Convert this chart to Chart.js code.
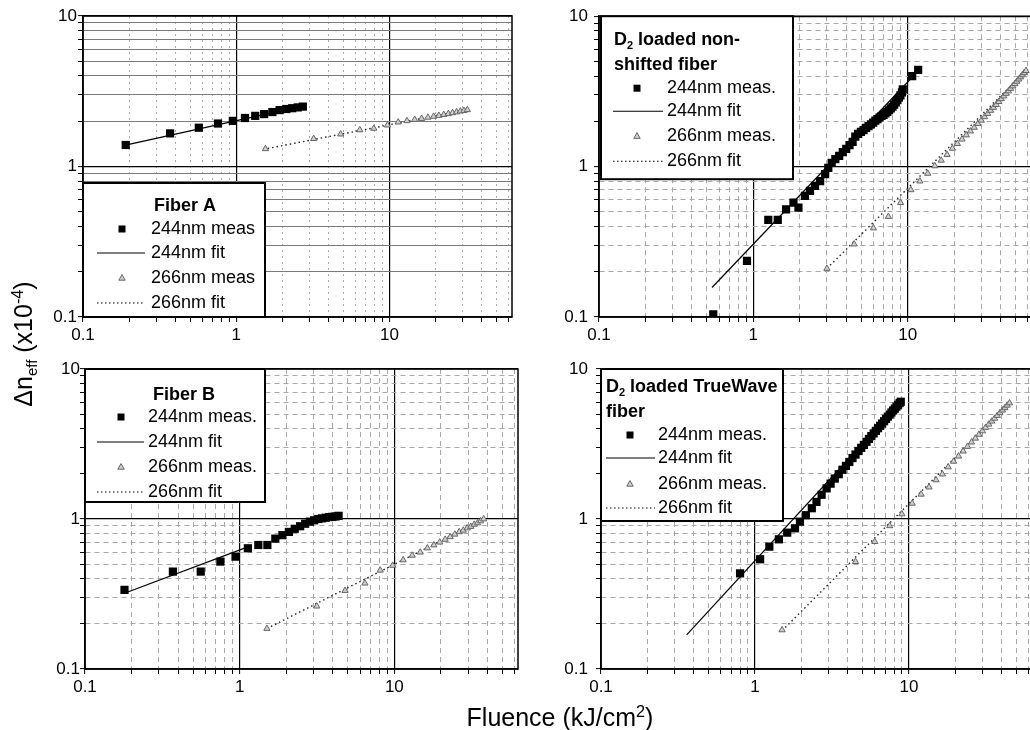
<!DOCTYPE html>
<html>
<head>
<meta charset="utf-8">
<script src="https://cdn.jsdelivr.net/npm/chart.js@4.4.1/dist/chart.umd.min.js"></script>
<style>
  html, body { margin: 0; padding: 0; background: #fff; }
  body { width: 1030px; height: 730px; overflow: hidden; position: relative; font-family: "Liberation Sans", Arial, sans-serif; }
  .panel { position: absolute; }
  .axis-title { position: absolute; font-size: 25px; line-height: 28px; color: #000; white-space: nowrap; text-align: center; }
  .axis-title .sup { position: relative; top: -0.55em; font-size: 0.65em; }
  .axis-title .sub { position: relative; top: 0.3em; font-size: 0.6em; }
</style>
</head>
<body>
<div class="panel" style="left:0;top:0"><canvas id="fiberA" width="525" height="350"></canvas></div>
<div class="panel" style="left:525px;top:0"><canvas id="nonShifted" width="540" height="350"></canvas></div>
<div class="panel" style="left:0;top:340px"><canvas id="fiberB" width="525" height="370"></canvas></div>
<div class="panel" style="left:525px;top:340px"><canvas id="trueWave" width="540" height="370"></canvas></div>

<div class="axis-title" style="left:410px;top:703px;width:300px">Fluence (kJ/cm<span class="sup">2</span>)</div>
<div class="axis-title" style="left:-75px;top:328px;width:200px;transform:rotate(-90deg)">Δn<span class="sub">eff</span> (x10<span class="sup">-4</span>)</div>

<script>
// ── Axes ──
const xMin = 0.1, xMax = 63, yMin = 0.1, yMax = 10;
const majorTicks = [0.1, 1, 10];
const majorLabels = ['0.1', '1', '10'];
const xTickValues = [0.1, 0.2, 0.3, 0.4, 0.5, 0.6, 0.7, 0.8, 0.9, 1, 2, 3, 4, 5, 6, 7, 8, 9, 10, 20, 30, 40, 50, 60];
const yTickValues = [0.1, 0.2, 0.3, 0.4, 0.5, 0.6, 0.7, 0.8, 0.9, 1, 2, 3, 4, 5, 6, 7, 8, 9, 10];

// ── Fiber A (top left) ──
const a244X = [0.19, 0.37, 0.57, 0.76, 0.95, 1.14, 1.33, 1.52, 1.72, 1.92, 2.12, 2.32, 2.52, 2.72];
const a244Y = [1.39, 1.66, 1.81, 1.93, 2.01, 2.10, 2.17, 2.23, 2.30, 2.37, 2.41, 2.44, 2.47, 2.50];
const a244FitX = [0.18, 2.7];
const a244FitY = [1.37, 2.52];
const a266X = [1.55, 3.2, 4.8, 6.4, 7.9, 9.7, 11.4, 13.0, 14.6, 16.2, 17.8, 19.4, 21.0, 22.6, 24.2, 25.8, 27.4, 29.0, 30.6, 32.2];
const a266Y = [1.31, 1.53, 1.64, 1.75, 1.79, 1.88, 1.97, 2.01, 2.05, 2.08, 2.12, 2.15, 2.18, 2.21, 2.24, 2.27, 2.30, 2.33, 2.35, 2.38];
const a266FitX = [1.5, 33];
const a266FitY = [1.30, 2.40];

// ── D2 loaded non-shifted fiber (top right) ──
const b244X = [0.55, 0.91, 1.25, 1.44, 1.63, 1.82, 1.96, 2.16, 2.33, 2.51, 2.71, 2.92, 3.06, 3.22, 3.40, 3.60, 3.80, 4.00, 4.20, 4.40, 4.58, 4.78, 4.98, 5.18, 5.38, 5.58, 5.78, 5.98, 6.18, 6.38, 6.58, 6.78, 6.98, 7.18, 7.38, 7.58, 7.78, 7.98, 8.18, 8.38, 8.58, 8.78, 8.98, 9.18, 9.30, 10.7, 11.7];
const b244Y = [0.104, 0.236, 0.442, 0.442, 0.52, 0.576, 0.534, 0.638, 0.69, 0.745, 0.80, 0.89, 0.98, 1.06, 1.12, 1.18, 1.25, 1.31, 1.39, 1.46, 1.58, 1.65, 1.70, 1.75, 1.81, 1.86, 1.91, 1.96, 2.02, 2.07, 2.12, 2.17, 2.21, 2.26, 2.31, 2.37, 2.44, 2.50, 2.58, 2.67, 2.77, 2.87, 2.98, 3.12, 3.26, 4.0, 4.4];
const b244FitX = [0.54, 12];
const b244FitY = [0.157, 4.44];
const b266X = [3.0, 4.5, 6.0, 7.5, 9.0, 10.5, 12.0, 13.5, 15.0, 16.5, 18.0, 19.5, 21.0, 22.5, 24.0, 25.5, 27.0, 28.5, 30.0, 31.5, 33.0, 34.5, 36.0, 37.5, 39.0, 40.5, 42.0, 43.5, 45.0, 46.5, 48.0, 49.5, 51.0, 52.5, 54.0, 55.5, 57.0, 58.5];
const b266Y = [0.21, 0.305, 0.39, 0.465, 0.575, 0.70, 0.80, 0.90, 1.01, 1.10, 1.20, 1.32, 1.42, 1.52, 1.62, 1.72, 1.82, 1.93, 2.03, 2.14, 2.25, 2.36, 2.47, 2.58, 2.70, 2.82, 2.94, 3.06, 3.18, 3.30, 3.43, 3.55, 3.68, 3.81, 3.94, 4.07, 4.20, 4.34];
const b266FitX = [3.0, 58.5];
const b266FitY = [0.21, 4.34];

// ── Fiber B (bottom left) ──
const c244X = [0.18, 0.37, 0.56, 0.75, 0.94, 1.13, 1.32, 1.51, 1.70, 1.89, 2.08, 2.27, 2.46, 2.65, 2.84, 3.03, 3.22, 3.41, 3.60, 3.79, 3.98, 4.17, 4.36];
const c244Y = [0.337, 0.446, 0.446, 0.52, 0.561, 0.638, 0.671, 0.671, 0.74, 0.78, 0.82, 0.86, 0.895, 0.93, 0.96, 0.98, 1.00, 1.01, 1.02, 1.03, 1.035, 1.04, 1.05];
const c244FitX = [0.18, 1.2];
const c244FitY = [0.32, 0.667];
const c266X = [1.5, 3.15, 4.8, 6.45, 8.1, 9.75, 11.4, 13.05, 14.7, 16.35, 18.0, 19.65, 21.3, 22.95, 24.6, 26.25, 27.9, 29.55, 31.2, 32.85, 34.5, 36.15, 37.8];
const c266Y = [0.186, 0.262, 0.333, 0.373, 0.455, 0.49, 0.533, 0.572, 0.60, 0.64, 0.67, 0.70, 0.73, 0.76, 0.79, 0.82, 0.84, 0.87, 0.89, 0.92, 0.94, 0.97, 1.0];
const c266FitX = [1.5, 38];
const c266FitY = [0.186, 1.0];

// ── D2 loaded TrueWave fiber (bottom right) ──
const d244X = [0.80, 1.08, 1.24, 1.43, 1.62, 1.82, 1.96, 2.14, 2.34, 2.51, 2.71, 2.92, 3.1, 3.3, 3.5, 3.7, 3.9, 4.1, 4.3, 4.5, 4.7, 4.9, 5.1, 5.3, 5.5, 5.7, 5.9, 6.1, 6.3, 6.5, 6.7, 6.9, 7.1, 7.3, 7.5, 7.7, 7.9, 8.1, 8.3, 8.5, 8.7, 8.85];
const d244Y = [0.434, 0.539, 0.654, 0.732, 0.811, 0.867, 0.96, 1.06, 1.18, 1.30, 1.45, 1.60, 1.72, 1.86, 1.99, 2.13, 2.26, 2.40, 2.55, 2.69, 2.84, 2.98, 3.12, 3.27, 3.42, 3.57, 3.72, 3.87, 4.03, 4.18, 4.33, 4.49, 4.65, 4.81, 4.97, 5.13, 5.29, 5.44, 5.61, 5.77, 5.93, 6.05];
const d244FitX = [0.36, 8.85];
const d244FitY = [0.169, 6.0];
const d266X = [1.5, 4.5, 6.0, 7.5, 9.0, 10.5, 12.0, 13.5, 15.0, 16.5, 18.0, 19.5, 21.0, 22.5, 24.0, 25.5, 27.0, 28.5, 30.0, 31.5, 33.0, 34.5, 36.0, 37.5, 39.0, 40.5, 42.0, 43.5, 45.0];
const d266Y = [0.182, 0.519, 0.706, 0.90, 1.08, 1.27, 1.46, 1.63, 1.82, 1.99, 2.22, 2.42, 2.62, 2.83, 3.04, 3.25, 3.45, 3.66, 3.86, 4.07, 4.28, 4.48, 4.68, 4.89, 5.10, 5.31, 5.51, 5.72, 5.93];
const d266FitX = [1.5, 45];
const d266FitY = [0.18, 5.93];

const FONT = '"Liberation Sans", Arial, sans-serif';
Chart.defaults.font.family = FONT;
Chart.defaults.color = '#000';

const pts = (xs, ys) => xs.map((x, i) => ({ x, y: ys[i] }));
const isMajor = v => majorTicks.some(m => Math.abs(v / m - 1) < 1e-6);
const labelFor = v => {
    const i = majorTicks.findIndex(m => Math.abs(v / m - 1) < 1e-6);
    return i >= 0 ? majorLabels[i] : '';
};

// dataset helpers
function squares(label, xs, ys) {
    return {
        label, kind: 'square', data: pts(xs, ys), showLine: false,
        pointStyle: 'rect', pointRadius: 5.8, pointHoverRadius: 5.8,
        pointBackgroundColor: '#000', pointBorderColor: '#000', pointBorderWidth: 0,
        backgroundColor: '#000', borderColor: '#000'
    };
}
function triangles(label, xs, ys) {
    return {
        label, kind: 'triangle', data: pts(xs, ys), showLine: false,
        pointStyle: 'triangle', pointRadius: 3.6, pointHoverRadius: 3.6,
        pointBackgroundColor: '#cfcfcf', pointBorderColor: '#666', pointBorderWidth: 1,
        backgroundColor: '#cfcfcf', borderColor: '#666'
    };
}
function fitLine(label, xs, ys, dotted) {
    return {
        label, kind: dotted ? 'dotted' : 'solid', data: pts(xs, ys), showLine: true,
        pointRadius: 0, pointHoverRadius: 0, tension: 0, fill: false,
        borderColor: dotted ? '#222' : '#000', borderWidth: dotted ? 1.4 : 1.2,
        borderDash: dotted ? [1.5, 3] : []
    };
}

// frame around plot area + boxed legend drawn inside it
function boxLegend(cfg) {
    return {
        id: 'boxLegend',
        afterDatasetsDraw(chart) {
            const { ctx, chartArea: a } = chart;
            const L = a.left, T = a.top;
            ctx.save();
            ctx.strokeStyle = '#000';
            ctx.lineWidth = 1.5;
            ctx.strokeRect(a.left, a.top, a.right - a.left, a.bottom - a.top);

            const [bx, by, bw, bh] = cfg.box;
            ctx.fillStyle = '#fff';
            ctx.fillRect(L + bx, T + by, bw, bh);
            ctx.lineWidth = 2;
            ctx.strokeRect(L + bx, T + by, bw, bh);

            // title lines (with subscript pieces)
            ctx.fillStyle = '#000';
            ctx.textAlign = 'left';
            ctx.textBaseline = 'alphabetic';
            cfg.title.forEach((line, li) => {
                const base = T + cfg.titleY[li] + 6.5;
                const parts = line.map(p => {
                    ctx.font = p.sub ? 'bold 11px ' + FONT : 'bold 18px ' + FONT;
                    return { t: p.t, sub: p.sub, w: ctx.measureText(p.t).width };
                });
                const total = parts.reduce((s, p) => s + p.w, 0);
                let x = L + (cfg.titleAlign === 'center' ? cfg.titleX - total / 2 : cfg.titleX);
                parts.forEach(p => {
                    ctx.font = p.sub ? 'bold 11px ' + FONT : 'bold 18px ' + FONT;
                    ctx.fillText(p.t, x, p.sub ? base + 4 : base);
                    x += p.w;
                });
            });

            // one row per dataset
            ctx.textBaseline = 'middle';
            chart.data.datasets.forEach((ds, i) => {
                const y = T + cfg.rows[i];
                const mx = L + cfg.markerX;
                if (ds.kind === 'square') {
                    ctx.fillStyle = '#000';
                    ctx.fillRect(mx - 3.5, y - 3.5, 7, 7);
                } else if (ds.kind === 'triangle') {
                    ctx.beginPath();
                    ctx.moveTo(mx, y - 3.5);
                    ctx.lineTo(mx + 3.2, y + 2.2);
                    ctx.lineTo(mx - 3.2, y + 2.2);
                    ctx.closePath();
                    ctx.fillStyle = '#cfcfcf';
                    ctx.fill();
                    ctx.strokeStyle = '#666';
                    ctx.lineWidth = 1;
                    ctx.stroke();
                } else {
                    ctx.beginPath();
                    ctx.strokeStyle = '#000';
                    ctx.lineWidth = 1.1;
                    ctx.setLineDash(ds.kind === 'dotted' ? [1.5, 2.5] : []);
                    ctx.moveTo(L + cfg.lineX[0], y);
                    ctx.lineTo(L + cfg.lineX[1], y);
                    ctx.stroke();
                    ctx.setLineDash([]);
                }
                ctx.fillStyle = '#000';
                ctx.font = '18px ' + FONT;
                ctx.fillText(ds.label, L + cfg.textX, y);
            });
            ctx.restore();
        }
    };
}

function axis(which, cfg) {
    const isX = which === 'x';
    const minorColor = (!isX && cfg.solidMinorY) ? '#7a7a7a' : '#a8a8a8';
    const minorDash = (!isX && cfg.solidMinorY) ? [] : (isX && cfg.solidMinorY ? [2, 4] : [5, 4]);
    return {
        type: 'logarithmic',
        position: isX ? 'bottom' : 'left',
        min: isX ? xMin : yMin,
        max: isX ? xMax : yMax,
        afterBuildTicks: scale => {
            scale.ticks = (isX ? xTickValues : yTickValues).map(v => ({ value: v, major: isMajor(v) }));
        },
        afterFit: scale => {
            if (isX) scale.height = 28; else scale.width = cfg.yWidth;
        },
        ticks: {
            autoSkip: false, maxRotation: 0, minRotation: 0,
            padding: isX ? 3 : cfg.yPad,
            font: { size: 17 }, color: '#000',
            callback: v => labelFor(v)
        },
        grid: {
            color: c => (c.tick && c.tick.major) ? '#000' : minorColor,
            lineWidth: c => (c.tick && c.tick.major) ? 1.2 : 1,
            tickColor: '#000', tickLength: 5, tickWidth: 1
        },
        border: {
            color: '#000', width: 1.5,
            dash: c => (c.tick && !c.tick.major) ? minorDash : []
        }
    };
}

function makeChart(id, cfg) {
    return new Chart(document.getElementById(id), {
        type: 'scatter',
        data: { datasets: cfg.datasets },
        options: {
            responsive: false,
            animation: false,
            events: [],
            layout: { padding: cfg.padding },
            plugins: { legend: { display: false }, tooltip: { enabled: false } },
            scales: { x: axis('x', cfg), y: axis('y', cfg) }
        },
        plugins: [boxLegend(cfg.legend)]
    });
}

// ── Build the four panels ──
makeChart('fiberA', {
    yWidth: 83, yPad: 1, solidMinorY: true,
    padding: { left: 0, top: 16, right: 13, bottom: 5 },
    datasets: [
        squares('244nm meas', a244X, a244Y),
        fitLine('244nm fit', a244FitX, a244FitY, false),
        triangles('266nm meas', a266X, a266Y),
        fitLine('266nm fit', a266FitX, a266FitY, true)
    ],
    legend: {
        box: [0, 167, 182, 134], title: [[{ t: 'Fiber A' }]], titleAlign: 'center',
        titleX: 102, titleY: [188], rows: [213, 237, 262, 287],
        markerX: 39, lineX: [14, 62], textX: 68
    }
});

makeChart('nonShifted', {
    yWidth: 74, yPad: 6,
    padding: { left: 0, top: 16, right: 34, bottom: 5 },
    datasets: [
        squares('244nm meas.', b244X, b244Y),
        fitLine('244nm fit', b244FitX, b244FitY, false),
        triangles('266nm meas.', b266X, b266Y),
        fitLine('266nm fit', b266FitX, b266FitY, true)
    ],
    legend: {
        box: [2, 0, 192, 163],
        title: [[{ t: 'D' }, { t: '2', sub: true }, { t: ' loaded non-' }], [{ t: 'shifted fiber' }]],
        titleAlign: 'left', titleX: 15, titleY: [22, 47], rows: [72, 95, 120, 145],
        markerX: 38, lineX: [14, 64], textX: 68
    }
});

makeChart('fiberB', {
    yWidth: 85, yPad: 0,
    padding: { left: 0, top: 29, right: 7, bottom: 13 },
    datasets: [
        squares('244nm meas.', c244X, c244Y),
        fitLine('244nm fit', c244FitX, c244FitY, false),
        triangles('266nm meas.', c266X, c266Y),
        fitLine('266nm fit', c266FitX, c266FitY, true)
    ],
    legend: {
        box: [0, 0, 180, 133], title: [[{ t: 'Fiber B' }]], titleAlign: 'center',
        titleX: 99, titleY: [24], rows: [48, 73, 98, 123],
        markerX: 36, lineX: [12, 59], textX: 63
    }
});

makeChart('trueWave', {
    yWidth: 76, yPad: 8,
    padding: { left: 0, top: 29, right: 33, bottom: 13 },
    datasets: [
        squares('244nm meas.', d244X, d244Y),
        fitLine('244nm fit', d244FitX, d244FitY, false),
        triangles('266nm meas.', d266X, d266Y),
        fitLine('266nm fit', d266FitX, d266FitY, true)
    ],
    legend: {
        box: [0, 0, 182, 152],
        title: [[{ t: 'D' }, { t: '2', sub: true }, { t: ' loaded TrueWave' }], [{ t: 'fiber' }]],
        titleAlign: 'left', titleX: 5, titleY: [16, 41], rows: [66, 89, 115, 139],
        markerX: 29, lineX: [5, 54], textX: 57
    }
});
</script>
</body>
</html>
